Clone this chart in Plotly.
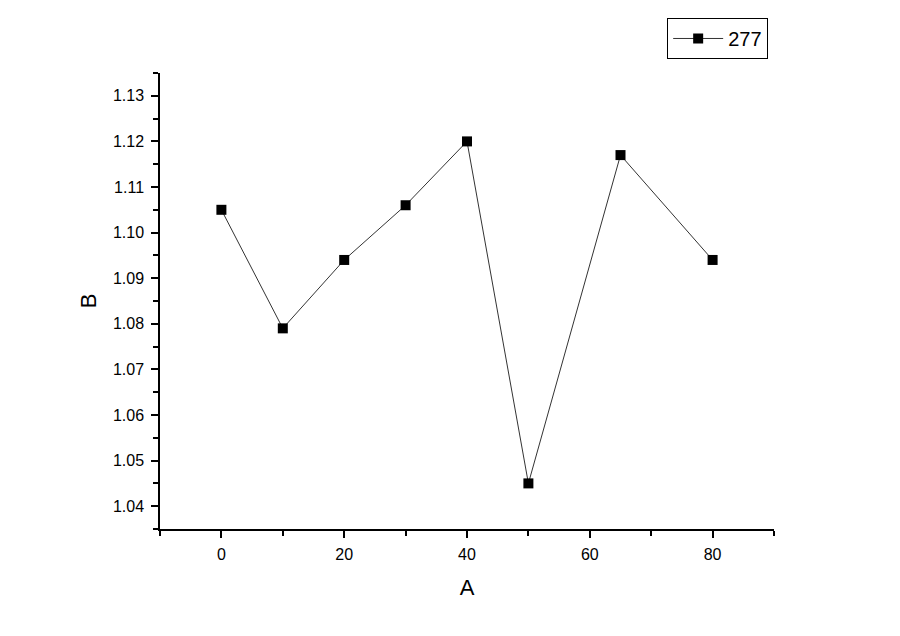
import plotly.graph_objects as go

# data
a_values = [0, 10, 20, 30, 40, 50, 65, 80]
b_values = [1.105, 1.079, 1.094, 1.106, 1.120, 1.045, 1.117, 1.094]
series_name = "277"

x_ticks = [0, 20, 40, 60, 80]
y_ticks = [1.04, 1.05, 1.06, 1.07, 1.08, 1.09, 1.10, 1.11, 1.12, 1.13]

FONT = "Liberation Sans, Arial, sans-serif"

fig = go.Figure()
fig.add_trace(
    go.Scatter(
        x=a_values,
        y=b_values,
        name=series_name,
        mode="lines+markers",
        line=dict(color="#333333", width=1),
        marker=dict(symbol="square", size=10, color="black"),
    )
)

axis_common = dict(
    showline=True,
    linecolor="black",
    linewidth=1.5,
    showgrid=False,
    zeroline=False,
    ticks="outside",
    tickcolor="black",
    tickwidth=1.5,
    ticklen=7,
    mirror=False,
    tickfont=dict(family=FONT, size=16, color="black"),
)

fig.update_xaxes(
    **axis_common,
    range=[-10, 90],
    tickvals=x_ticks,
    ticktext=[str(v) for v in x_ticks],
    ticklabelstandoff=3,
    minor=dict(ticks="outside", ticklen=5, tickwidth=1.5, tickcolor="black", dtick=10, tick0=-10),
    title=dict(text="A", font=dict(family=FONT, size=22, color="black"), standoff=18),
)
fig.update_yaxes(
    **axis_common,
    range=[1.035, 1.135],
    tickvals=y_ticks,
    ticktext=[f"{v:.2f}" for v in y_ticks],
    ticklabelstandoff=4,
    minor=dict(ticks="outside", ticklen=5, tickwidth=1.5, tickcolor="black", dtick=0.005, tick0=1.035),
    title=dict(text="B", font=dict(family=FONT, size=22, color="black"), standoff=10),
)

# the page body adds an 8px offset, so margins are shifted to compensate
fig.update_layout(
    width=900,
    height=636,
    margin=dict(l=152, r=134, t=65, b=115, autoexpand=False),
    plot_bgcolor="white",
    paper_bgcolor="white",
    showlegend=True,
    legend=dict(
        x=0.826,
        y=1.0757,
        xanchor="left",
        yanchor="middle",
        bordercolor="black",
        borderwidth=1,
        font=dict(family=FONT, size=20, color="black"),
        itemwidth=50,
        tracegroupgap=0,
    ),
)

fig.write_html("out.html")
